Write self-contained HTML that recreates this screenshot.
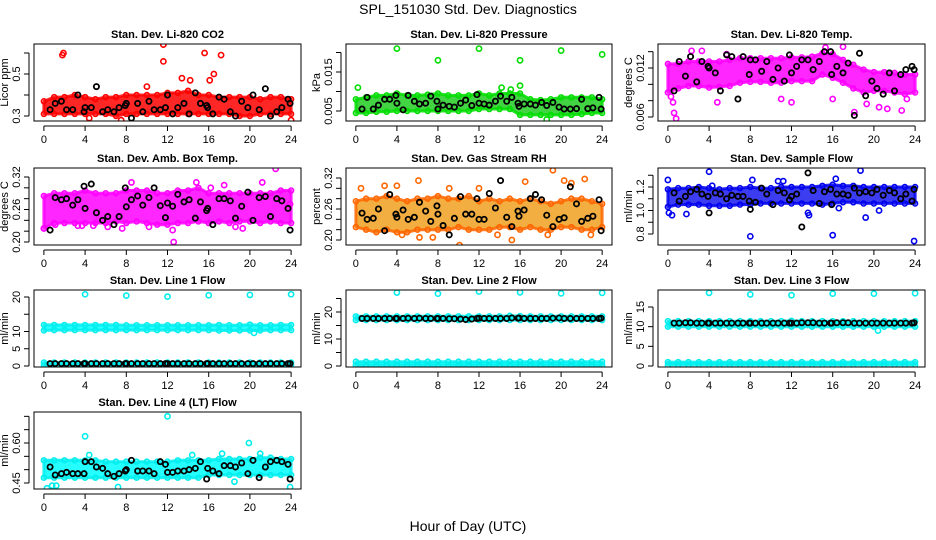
<!DOCTYPE html>
<html><head><meta charset="utf-8"><style>
html,body{margin:0;padding:0;background:#fff;}
svg{display:block;font-family:"Liberation Sans",sans-serif;}
</style></head><body>
<svg id="chart" width="936" height="540" viewBox="0 0 936 540" xmlns="http://www.w3.org/2000/svg">
<text x="468" y="14" text-anchor="middle" font-size="14">SPL_151030  Std. Dev. Diagnostics</text>
<text x="468" y="531" text-anchor="middle" font-size="14">Hour of Day (UTC)</text>
</svg>
<script>
const hours = [0,1,2,3,4,5,6,7,8,9,10,11,12,13,14,15,16,17,18,19,20,21,22,23,24];
const blackHours = [0.6,1.1,1.7,2.2,2.8,3.3,3.9,4.0,4.6,5.1,5.7,6.2,6.8,7.3,7.9,8.0,8.5,9.1,9.6,10.2,10.7,11.3,11.8,12.0,12.5,13.0,13.6,14.1,14.7,15.2,15.8,15.9,16.4,17.0,17.5,18.1,18.6,19.2,19.8,20.3,20.9,21.5,22.0,22.6,23.1,23.7,23.9];

const co2Low = [0.31,0.31,0.31,0.31,0.31,0.31,0.31,0.30,0.31,0.31,0.31,0.31,0.31,0.31,0.31,0.31,0.31,0.31,0.31,0.30,0.30,0.31,0.31,0.31,0.31];
const co2High = [0.37,0.39,0.39,0.40,0.39,0.38,0.39,0.39,0.40,0.40,0.40,0.40,0.41,0.41,0.42,0.40,0.40,0.39,0.39,0.39,0.39,0.38,0.39,0.39,0.38];
const co2OutX = [1.8,1.9,11.6,11.6,15.6,17.2,16.5,16.1,13.4,14.2,7.5,24.0,10.0,4.4];
const co2OutY = [0.59,0.60,0.64,0.56,0.60,0.59,0.50,0.47,0.48,0.47,0.28,0.28,0.44,0.29];
const co2Black = [0.33,0.36,0.37,0.33,0.33,0.40,0.32,0.34,0.34,0.44,0.32,0.33,0.32,0.34,0.35,0.36,0.29,0.36,0.32,0.37,0.33,0.33,0.34,0.40,0.31,0.34,0.36,0.31,0.41,0.36,0.35,0.34,0.31,0.39,0.38,0.32,0.30,0.37,0.34,0.40,0.33,0.43,0.30,0.32,0.34,0.38,0.36];

const presLow = [0.0045,0.0045,0.0048,0.0048,0.005,0.005,0.005,0.005,0.005,0.005,0.005,0.005,0.0055,0.0055,0.0055,0.0055,0.004,0.004,0.004,0.004,0.004,0.004,0.0042,0.0045,0.0045];
const presHigh = [0.008,0.0085,0.009,0.009,0.0095,0.009,0.009,0.0092,0.0095,0.009,0.009,0.009,0.0095,0.009,0.0095,0.0095,0.0095,0.008,0.0078,0.008,0.0085,0.0085,0.0085,0.0085,0.008];
const presOutX = [0.2,4.0,8.0,12.0,16.0,20.0,24.0,16.0,14.2,18.6,15.1];
const presOutY = [0.011,0.021,0.018,0.021,0.018,0.0205,0.0195,0.0115,0.011,0.0028,0.0105];
const presBlack = [0.0055,0.0085,0.0055,0.0065,0.0080,0.0080,0.0090,0.0070,0.0053,0.0090,0.0075,0.0068,0.0070,0.0088,0.0075,0.0055,0.0065,0.0062,0.0060,0.0070,0.0078,0.0064,0.0092,0.0070,0.0068,0.0065,0.0075,0.0088,0.0075,0.0085,0.0070,0.0062,0.0068,0.0068,0.0065,0.0072,0.0064,0.0072,0.0060,0.0055,0.0055,0.0056,0.0080,0.0056,0.0058,0.0085,0.0055];

const tempLow = [0.009,0.0095,0.0098,0.0098,0.0096,0.0097,0.0098,0.0102,0.0103,0.0103,0.0102,0.0102,0.0104,0.0104,0.0104,0.0112,0.0108,0.0102,0.0095,0.009,0.0092,0.0092,0.009,0.0088,0.009];
const tempHigh = [0.0125,0.0125,0.0128,0.0128,0.0128,0.0128,0.013,0.0132,0.0132,0.0132,0.0132,0.0132,0.0133,0.0133,0.0134,0.0138,0.0137,0.013,0.0124,0.0118,0.0115,0.0115,0.0114,0.0112,0.0112];
const tempOutX = [0.3,0.5,0.6,0.8,2.3,3.3,4.8,5.7,11.0,12.0,15.3,16.0,17.0,18.1,19.3,20.5,21.3,22.7,23.2];
const tempOutY = [0.0085,0.0078,0.0065,0.0058,0.0141,0.0141,0.0078,0.0137,0.0082,0.0078,0.0145,0.0082,0.0146,0.0066,0.0076,0.0072,0.007,0.0068,0.0082];
const tempBlack = [0.0092,0.0128,0.0110,0.0134,0.0103,0.0128,0.0122,0.0120,0.0114,0.0092,0.0136,0.0134,0.0082,0.0134,0.0112,0.0130,0.0130,0.0116,0.0128,0.0106,0.0120,0.0104,0.0136,0.0114,0.0122,0.0130,0.0130,0.0118,0.0128,0.0140,0.0140,0.0112,0.0122,0.0114,0.0126,0.0062,0.0138,0.0086,0.0104,0.0095,0.0088,0.0114,0.0092,0.0112,0.0118,0.0122,0.0118];

const ambLow = [0.225,0.235,0.235,0.235,0.235,0.235,0.235,0.238,0.235,0.238,0.235,0.232,0.232,0.235,0.235,0.238,0.235,0.238,0.235,0.238,0.238,0.235,0.238,0.235,0.235];
const ambHigh = [0.285,0.29,0.29,0.29,0.295,0.29,0.29,0.29,0.295,0.295,0.295,0.29,0.29,0.295,0.295,0.30,0.29,0.29,0.29,0.29,0.29,0.29,0.29,0.295,0.295];
const ambOutX = [0.0,1.1,3.3,3.7,4.8,6.2,7.6,8.5,10.2,12.5,12.6,14.8,16.2,17.5,18.6,21.2,22.5,23.9,19.3];
const ambOutY = [0.225,0.232,0.23,0.23,0.23,0.228,0.225,0.31,0.228,0.222,0.20,0.31,0.30,0.305,0.228,0.31,0.335,0.27,0.225];
const ambBlack = [0.222,0.282,0.278,0.280,0.268,0.278,0.303,0.262,0.307,0.254,0.240,0.247,0.232,0.247,0.300,0.265,0.278,0.285,0.268,0.282,0.300,0.267,0.245,0.272,0.266,0.288,0.274,0.278,0.244,0.274,0.258,0.262,0.232,0.280,0.280,0.276,0.244,0.266,0.292,0.240,0.282,0.284,0.247,0.280,0.276,0.262,0.222];

const rhLow = [0.225,0.22,0.215,0.22,0.215,0.215,0.22,0.22,0.22,0.22,0.225,0.22,0.22,0.22,0.225,0.225,0.22,0.225,0.22,0.22,0.225,0.225,0.22,0.22,0.225];
const rhHigh = [0.275,0.28,0.28,0.285,0.28,0.275,0.28,0.28,0.285,0.28,0.28,0.285,0.275,0.28,0.275,0.28,0.275,0.28,0.275,0.27,0.275,0.28,0.28,0.275,0.27];
const rhOutX = [0.5,2.8,4.0,6.1,6.2,7.5,9.1,10.1,12.0,15.2,16.5,19.2,20.3,21.0,22.3,22.9,4.5,13.8,18.7];
const rhOutY = [0.30,0.305,0.305,0.315,0.205,0.205,0.30,0.19,0.30,0.20,0.313,0.335,0.315,0.31,0.318,0.21,0.21,0.21,0.21];
const rhBlack = [0.252,0.240,0.242,0.260,0.218,0.288,0.250,0.244,0.258,0.240,0.244,0.273,0.256,0.236,0.266,0.250,0.228,0.210,0.242,0.284,0.250,0.250,0.280,0.240,0.240,0.290,0.262,0.315,0.244,0.226,0.256,0.246,0.258,0.280,0.288,0.278,0.248,0.226,0.240,0.243,0.303,0.270,0.236,0.242,0.246,0.278,0.218];

const flowLow = [1.03,1.05,1.05,1.05,1.04,1.04,1.04,1.05,1.05,1.06,1.06,1.06,1.06,1.06,1.06,1.05,1.06,1.07,1.07,1.06,1.06,1.06,1.06,1.06,1.06];
const flowHigh = [1.18,1.19,1.19,1.20,1.19,1.18,1.19,1.19,1.20,1.19,1.19,1.20,1.20,1.20,1.20,1.21,1.22,1.21,1.21,1.20,1.20,1.20,1.20,1.20,1.20];
const flowOutX = [0.0,0.1,0.4,1.8,4.0,8.0,8.2,13.6,13.7,16.0,16.3,16.6,18.7,19.2,20.5,23.9,10.7,11.2,4.3];
const flowOutY = [1.26,0.98,0.96,0.97,1.33,0.78,1.26,0.98,0.96,0.79,1.27,1.02,1.34,0.94,1.00,0.74,1.25,1.25,1.21];
const flowBlack = [1.15,1.08,1.12,1.16,1.18,1.14,1.12,0.98,1.15,1.14,1.10,1.13,1.12,1.12,1.08,1.01,1.07,1.19,1.14,1.05,1.17,1.15,1.09,1.12,1.14,0.86,1.32,1.17,1.06,1.16,1.18,1.05,1.14,1.14,1.13,1.19,1.15,1.16,1.15,1.18,1.13,1.17,1.15,1.10,1.14,1.08,1.18];

const line1Low = [10.3,10.4,10.4,10.4,10.4,10.4,10.4,10.4,10.4,10.4,10.4,10.4,10.4,10.4,10.4,10.4,10.4,10.3,10.3,10.3,10.3,10.3,10.4,10.4,10.4];
const line1High = [11.9,11.9,11.9,11.9,11.9,11.9,11.9,11.9,11.8,11.8,11.8,11.8,11.8,11.8,11.8,11.8,11.8,11.9,11.8,11.8,12.0,11.8,11.8,11.9,11.9];
const line1BaseLow = [0.3,0.3,0.3,0.3,0.3,0.3,0.3,0.3,0.3,0.3,0.3,0.3,0.3,0.3,0.3,0.3,0.3,0.3,0.3,0.3,0.3,0.3,0.3,0.3,0.3];
const line1BaseHigh = [1.0,1.0,1.0,1.0,1.0,1.0,1.0,1.0,1.0,1.0,1.0,1.0,1.0,1.0,1.0,1.0,1.0,1.0,1.0,1.0,1.0,1.0,1.0,1.0,1.0];
const line1OutX = [4.0,8.0,12.0,16.0,20.0,24.0,20.4];
const line1OutY = [20.8,20.4,20.1,20.5,20.6,20.8,9.6];
const line1Black = [0.7,0.7,0.7,0.7,0.7,0.7,0.7,0.7,0.7,0.7,0.7,0.7,0.7,0.7,0.7,0.7,0.7,0.7,0.7,0.7,0.7,0.7,0.7,0.7,0.7,0.7,0.7,0.7,0.7,0.7,0.7,0.7,0.7,0.7,0.7,0.7,0.7,0.7,0.7,0.7,0.7,0.7,0.7,0.7,0.7,0.7,0.7];

const line2Low = [17.0,17.0,17.0,17.0,17.0,17.0,17.0,17.0,17.0,17.0,17.0,17.0,17.0,17.0,17.0,17.0,17.0,17.0,17.0,17.0,17.0,17.0,17.0,17.0,17.0];
const line2High = [18.4,18.4,18.4,18.4,18.4,18.4,18.4,18.4,18.4,18.4,18.4,18.4,18.4,18.4,18.4,18.6,18.5,18.4,18.4,18.4,18.4,18.4,18.4,18.4,18.4];
const line2BaseLow = [0.3,0.3,0.3,0.3,0.3,0.3,0.3,0.3,0.3,0.3,0.3,0.3,0.3,0.3,0.3,0.3,0.3,0.3,0.3,0.3,0.3,0.3,0.3,0.3,0.3];
const line2BaseHigh = [1.6,1.6,1.6,1.6,1.6,1.6,1.6,1.6,1.6,1.6,1.6,1.6,1.6,1.6,1.6,1.6,1.6,1.6,1.6,1.6,1.6,1.6,1.6,1.6,1.6];
const line2OutX = [4.0,8.0,12.0,16.0,20.0,24.0];
const line2OutY = [27.2,26.8,27.6,27.3,26.9,27.1];
const line2Black = [17.6,17.6,17.6,17.6,17.6,17.6,17.6,17.6,17.6,17.7,17.6,17.7,17.6,17.6,17.6,17.6,17.6,17.5,17.5,17.4,17.2,17.4,17.6,17.7,17.6,17.6,17.6,17.6,17.6,17.8,17.7,17.8,17.6,17.6,17.6,17.6,17.6,17.7,17.8,17.6,17.6,17.6,17.6,17.6,17.6,17.6,17.7];

const line3Low = [10.0,10.0,10.0,10.0,10.0,10.0,10.0,10.0,10.0,10.0,10.0,10.0,10.0,10.0,10.0,10.0,10.0,10.0,10.0,10.0,10.0,10.0,10.0,10.0,10.0];
const line3High = [11.4,11.4,11.4,11.4,11.4,11.4,11.4,11.4,11.4,11.4,11.4,11.4,11.5,11.4,11.4,11.4,11.4,11.4,11.4,11.4,11.4,11.4,11.4,11.4,11.4];
const line3BaseLow = [0.3,0.3,0.3,0.3,0.3,0.3,0.3,0.3,0.3,0.3,0.3,0.3,0.3,0.3,0.3,0.3,0.3,0.3,0.3,0.3,0.3,0.3,0.3,0.3,0.3];
const line3BaseHigh = [1.0,1.0,1.0,1.0,1.0,1.0,1.0,1.0,1.0,1.0,1.0,1.0,1.0,1.0,1.0,1.0,1.0,1.0,1.0,1.0,1.0,1.0,1.0,1.0,1.0];
const line3OutX = [4.0,8.0,12.0,16.0,20.0,24.0,20.4];
const line3OutY = [18.6,18.2,18.0,18.4,18.4,18.5,9.0];
const line3Black = [10.9,10.9,11.0,11.0,10.9,10.9,10.9,10.9,10.9,10.9,10.9,10.9,10.9,10.9,10.9,10.9,10.9,10.9,10.9,10.9,10.9,10.9,10.9,10.9,10.9,11.0,11.0,11.0,10.9,10.9,10.9,10.9,11.0,11.0,11.0,10.9,10.9,10.9,10.9,10.9,10.9,10.9,10.9,10.9,10.9,10.9,11.0];

const line4Low = [0.47,0.47,0.47,0.47,0.47,0.47,0.47,0.47,0.47,0.47,0.47,0.47,0.47,0.47,0.47,0.47,0.48,0.48,0.48,0.48,0.48,0.48,0.48,0.48,0.48];
const line4High = [0.535,0.535,0.535,0.535,0.535,0.535,0.53,0.53,0.53,0.53,0.53,0.53,0.53,0.535,0.535,0.535,0.535,0.54,0.54,0.54,0.54,0.545,0.545,0.54,0.54];
const line4OutX = [0.3,0.8,1.2,4.0,4.4,12.0,14.4,17.3,19.9,21.0,23.9,18.5,7.2];
const line4OutY = [0.43,0.44,0.44,0.625,0.555,0.70,0.555,0.56,0.60,0.56,0.435,0.455,0.435];
const line4Black = [0.51,0.48,0.485,0.49,0.485,0.485,0.485,0.53,0.53,0.51,0.505,0.485,0.475,0.485,0.495,0.50,0.535,0.495,0.495,0.495,0.485,0.53,0.52,0.49,0.49,0.495,0.495,0.50,0.505,0.53,0.465,0.505,0.495,0.485,0.515,0.515,0.51,0.525,0.485,0.535,0.470,0.51,0.53,0.535,0.53,0.52,0.465];

const svg = document.getElementById('chart');
const NS = 'http://www.w3.org/2000/svg';
const colL = [34,346,658], colR = [301,612,925];
const rowT = [44,168,290,412], BOXH = 77;

const panels = [
 {name:'co2',title:'Stan. Dev. Li-820 CO2',ylab:'Licor ppm',col:0,row:0,color:'#ff0000',fill:'#ff0000',ref:[0.3,116,0.5,74],ticks:[0.3,0.4,0.5,0.6],labels:['0.3','','0.5',''],low:co2Low,high:co2High,ox:co2OutX,oy:co2OutY,black:co2Black},
 {name:'pressure',title:'Stan. Dev. Li-820 Pressure',ylab:'kPa',col:1,row:0,color:'#00dd00',fill:'#22cc22',ref:[0.005,111,0.015,72],ticks:[0.005,0.010,0.015,0.020],labels:['0.005','','0.015',''],low:presLow,high:presHigh,ox:presOutX,oy:presOutY,black:presBlack},
 {name:'licor-temp',title:'Stan. Dev. Li-820 Temp.',ylab:'degrees C',col:2,row:0,color:'#ff00ff',fill:'#ff00ff',ref:[0.006,117,0.012,68],ticks:[0.006,0.008,0.010,0.012,0.014],labels:['0.006','','','0.012',''],low:tempLow,high:tempHigh,ox:tempOutX,oy:tempOutY,black:tempBlack},
 {name:'amb-box-temp',title:'Stan. Dev. Amb. Box Temp.',ylab:'degrees C',col:0,row:1,color:'#ff00ff',fill:'#ff00ff',ref:[0.20,242,0.32,177],ticks:[0.20,0.22,0.24,0.26,0.28,0.30,0.32],labels:['0.20','','','0.26','','','0.32'],low:ambLow,high:ambHigh,ox:ambOutX,oy:ambOutY,black:ambBlack},
 {name:'gas-stream-rh',title:'Stan. Dev. Gas Stream RH',ylab:'percent',col:1,row:1,color:'#ff6600',fill:'#f0a020',ref:[0.20,240,0.32,178],ticks:[0.20,0.22,0.24,0.26,0.28,0.30,0.32],labels:['0.20','','','0.26','','','0.32'],low:rhLow,high:rhHigh,ox:rhOutX,oy:rhOutY,black:rhBlack},
 {name:'sample-flow',title:'Stan. Dev. Sample Flow',ylab:'ml/min',col:2,row:1,color:'#0000ee',fill:'#1a1aee',ref:[0.8,234,1.2,187],ticks:[0.8,0.9,1.0,1.1,1.2,1.3],labels:['0.8','','1.0','','1.2',''],low:flowLow,high:flowHigh,ox:flowOutX,oy:flowOutY,black:flowBlack},
 {name:'line1-flow',title:'Stan. Dev. Line 1 Flow',ylab:'ml/min',col:0,row:2,color:'#00eeee',fill:'#00ffff',ref:[0,366,20,297],ticks:[0,5,10,15,20],labels:['0','5','10','','20'],low:line1Low,high:line1High,bl:line1BaseLow,bh:line1BaseHigh,ox:line1OutX,oy:line1OutY,black:line1Black},
 {name:'line2-flow',title:'Stan. Dev. Line 2 Flow',ylab:'ml/min',col:1,row:2,color:'#00eeee',fill:'#00ffff',ref:[0,366,20,312],ticks:[0,5,10,15,20,25],labels:['0','','10','','20',''],low:line2Low,high:line2High,bl:line2BaseLow,bh:line2BaseHigh,ox:line2OutX,oy:line2OutY,black:line2Black},
 {name:'line3-flow',title:'Stan. Dev. Line 3 Flow',ylab:'ml/min',col:2,row:2,color:'#00eeee',fill:'#00ffff',ref:[0,366,15,307],ticks:[0,5,10,15],labels:['0','5','10','15'],low:line3Low,high:line3High,bl:line3BaseLow,bh:line3BaseHigh,ox:line3OutX,oy:line3OutY,black:line3Black},
 {name:'line4-flow',title:'Stan. Dev. Line 4 (LT) Flow',ylab:'ml/min',col:0,row:3,color:'#00eeee',fill:'#00ffff',ref:[0.45,483,0.60,443],ticks:[0.45,0.50,0.55,0.60,0.65,0.70],labels:['0.45','','','0.60','',''],low:line4Low,high:line4High,ox:line4OutX,oy:line4OutY,black:line4Black}
];

function mk(tag, attrs, parent){
  const e = document.createElementNS(NS, tag);
  for (const k in attrs) e.setAttribute(k, attrs[k]);
  (parent||svg).appendChild(e);
  return e;
}

const xTicks = [0,4,8,12,16,20,24];

panels.forEach(p => {
  const L = colL[p.col], R = colR[p.col], T = rowT[p.row], B = T + BOXH;
  const xs = h => L + (h + 0.96) / 25.92 * (R - L);
  const k = (p.ref[3] - p.ref[1]) / (p.ref[2] - p.ref[0]);
  const ys = v => p.ref[1] + (v - p.ref[0]) * k;

  const g = mk('g', {});
  
  

  const clipId = 'clip-' + p.name;
  const cp = mk('clipPath', {id: clipId}, g);
  mk('rect', {x: L, y: T, width: R - L, height: BOXH}, cp);
  const dg = mk('g', {'clip-path': 'url(#' + clipId + ')'}, g);

  function band(lo, hi, nm){
    let d = '';
    hours.forEach((h,i) => { d += (i ? 'L' : 'M') + xs(h).toFixed(1) + ',' + ys(hi[i]).toFixed(1); });
    for (let i = hours.length - 1; i >= 0; i--) d += 'L' + xs(hours[i]).toFixed(1) + ',' + ys(lo[i]).toFixed(1);
    const b = mk('path', {d: d + 'Z', fill: p.fill, 'fill-opacity': 0.85, stroke: p.color, 'stroke-opacity': 0.85, 'stroke-width': 3, 'stroke-linejoin': 'round'}, dg);
    
    
    hours.forEach((h,i) => {
      [lo[i], hi[i]].forEach(v => {
        const c = mk('circle', {cx: xs(h), cy: ys(v), r: 2.5, fill: 'none', stroke: p.color, 'stroke-width': 1.5}, dg);
        
        
      });
    });
  }
  band(p.low, p.high, p.name + '-cloud');
  if (p.bl) band(p.bl, p.bh, p.name + '-base-cloud');

  p.ox.forEach((h,i) => {
    const c = mk('circle', {cx: xs(h), cy: ys(p.oy[i]), r: 2.6, fill: 'none', stroke: p.color, 'stroke-width': 1.6}, dg);
    
    
  });
  p.black.forEach((v,i) => {
    if (i >= blackHours.length) return;
    const c = mk('circle', {cx: xs(blackHours[i]), cy: ys(v), r: 2.6, fill: 'none', stroke: '#000', 'stroke-width': 1.8}, dg);
    
    
  });

  const box = mk('rect', {x: L, y: T, width: R - L, height: BOXH, fill: 'none', stroke: '#000', 'stroke-width': 1}, g);
  
  

  const tt = mk('text', {x: (L + R) / 2, y: T - 6, 'text-anchor': 'middle', 'font-size': 11, 'font-weight': 'bold'}, g);
  tt.textContent = p.title;
  
  

  mk('line', {x1: xs(0), x2: xs(24), y1: B + 5, y2: B + 5, stroke: '#000'}, g);
  xTicks.forEach(h => {
    mk('line', {x1: xs(h), x2: xs(h), y1: B + 5, y2: B + 10, stroke: '#000'}, g);
    const t = mk('text', {x: xs(h), y: B + 22, 'text-anchor': 'middle', 'font-size': 11}, g);
    t.textContent = h;
    
    
  });

  const ax = L - 5;
  mk('line', {x1: ax, x2: ax, y1: ys(p.ticks[0]), y2: ys(p.ticks[p.ticks.length - 1]), stroke: '#000'}, g);
  p.ticks.forEach((v,i) => {
    mk('line', {x1: ax - 5, x2: ax, y1: ys(v), y2: ys(v), stroke: '#000'}, g);
    if (p.labels[i]) {
      const yy = ys(v);
      const t = mk('text', {x: ax - 9, y: yy, 'text-anchor': 'middle', 'font-size': 11, transform: 'rotate(-90 ' + (ax - 9) + ' ' + yy + ')'}, g);
      t.textContent = p.labels[i];
      
      
    }
  });
  const yc = (T + B) / 2, lx = L - 26;
  const yl = mk('text', {x: lx, y: yc, 'text-anchor': 'middle', 'font-size': 11, transform: 'rotate(-90 ' + lx + ' ' + yc + ')'}, g);
  yl.textContent = p.ylab;
  
  
});
</script>
</body></html>
